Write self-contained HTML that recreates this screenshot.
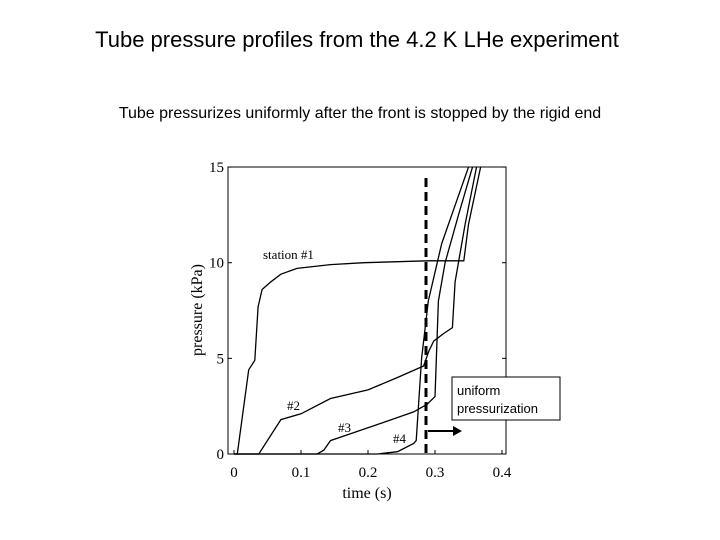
<!DOCTYPE html>
<html><head><meta charset="utf-8"><style>
body{margin:0;background:#fff;width:720px;height:540px;overflow:hidden}
svg{display:block}
.s{font-family:"Liberation Serif",serif}
.a{font-family:"Liberation Sans",sans-serif}
</style></head><body>
<svg width="720" height="540">
<text class="a" x="357" y="47" font-size="22" text-anchor="middle">Tube pressure profiles from the 4.2 K LHe experiment</text>
<text class="a" x="360" y="118" font-size="16" text-anchor="middle">Tube pressurizes uniformly after the front is stopped by the rigid end</text>
<rect x="228" y="167" width="278" height="287" fill="none" stroke="#000" stroke-width="1"/>
<g id="axes"></g>
<g id="lines"></g>
<text class="s" x="263" y="259" font-size="13">station #1</text>
<text class="s" x="287" y="410" font-size="13">#2</text>
<text class="s" x="338" y="432" font-size="13">#3</text>
<text class="s" x="393" y="443" font-size="13">#4</text>
<text class="s" x="367" y="498" font-size="16" text-anchor="middle">time (s)</text>
<text class="s" transform="translate(202,310) rotate(-90)" font-size="16" text-anchor="middle">pressure (kPa)</text>
<line x1="426" y1="178" x2="426" y2="456" stroke="#000" stroke-width="3" stroke-dasharray="9,5"/>
<line x1="428" y1="431" x2="455" y2="431" stroke="#000" stroke-width="2"/>
<polygon points="462,431 453,426 453,436" fill="#000"/>
<rect x="452" y="377" width="108" height="43" fill="#fff" stroke="#000" stroke-width="1"/>
<text class="a" x="457" y="395" font-size="13">uniform</text>
<text class="a" x="457" y="413" font-size="13">pressurization</text>
</svg>
<script>
const xTicks=[0,0.1,0.2,0.3,0.4];
const yTicks=[0,5,10,15];
const s1t=[0,0.005,0.022,0.031,0.036,0.042,0.055,0.07,0.094,0.144,0.194,0.289,0.343,0.35,0.368];
const s1p=[0,0,4.4,4.9,7.7,8.6,9.0,9.4,9.7,9.9,10.0,10.1,10.1,12,15];
const s2t=[0,0.037,0.07,0.1,0.144,0.2,0.244,0.283,0.291,0.298,0.313,0.326,0.33,0.345,0.362];
const s2p=[0,0,1.8,2.1,2.9,3.35,4.0,4.6,5.4,5.9,6.3,6.6,9,12,15];
const s3t=[0,0.124,0.134,0.144,0.169,0.219,0.268,0.288,0.3,0.305,0.315,0.335,0.356];
const s3p=[0,0,0.2,0.7,1.0,1.6,2.2,2.6,3.0,8,10,12.5,15];
const s4t=[0,0.214,0.244,0.268,0.272,0.28,0.29,0.31,0.33,0.35];
const s4p=[0,0,0.12,0.55,0.7,5,8,11,13,15];
const X=t=>234+t*670, Y=p=>454-p*19.13;
const NS='http://www.w3.org/2000/svg';
const ax=document.getElementById('axes');
function mk(tag,at,par){const e=document.createElementNS(NS,tag);for(const k in at)e.setAttribute(k,at[k]);par.appendChild(e);return e;}
xTicks.forEach(v=>{
 const l=mk('line',{x1:X(v),x2:X(v),y1:454,y2:450,stroke:'#000'},ax);
 
 
 const t=mk('text',{x:X(v),y:477,'font-size':15,'text-anchor':'middle',class:'s'},ax);t.textContent=v;
 
 
});
yTicks.forEach(v=>{
 const l=mk('line',{x1:228,x2:232,y1:Y(v),y2:Y(v),stroke:'#000'},ax);
 
 
 const l2=mk('line',{x1:506,x2:502,y1:Y(v),y2:Y(v),stroke:'#000'},ax);
 
 
 const t=mk('text',{x:224,y:Y(v)+5,'font-size':15,'text-anchor':'end',class:'s'},ax);t.textContent=v;
 
 
});
const lg=document.getElementById('lines');
[[s1t,s1p,'station-1'],[s2t,s2p,'station-2'],[s3t,s3p,'station-3'],[s4t,s4p,'station-4']].forEach(([t,p,n])=>{
 const d=t.map((v,i)=>(i?'L':'M')+X(v).toFixed(1)+','+Y(p[i]).toFixed(1)).join('');
 const e=mk('path',{d:d,fill:'none',stroke:'#000','stroke-width':1.3},lg);
 
 
});
</script>
</body></html>
